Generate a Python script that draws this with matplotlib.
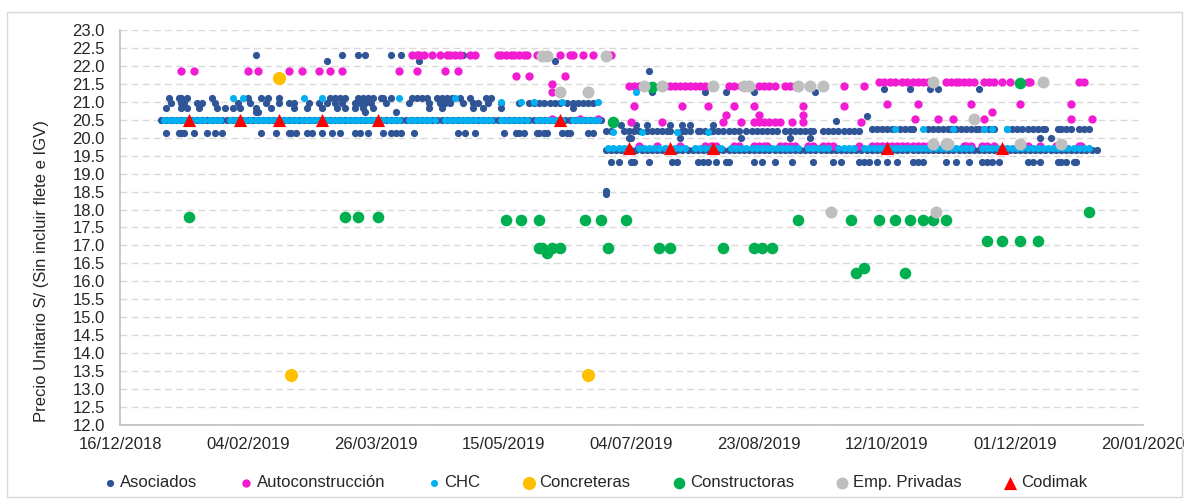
import numpy as np
import pandas as pd
import matplotlib
matplotlib.use('Agg')
import matplotlib.pyplot as plt
import matplotlib.dates as mdates
from matplotlib.patches import Rectangle

plt.rcParams['font.family'] = ['Liberation Sans', 'DejaVu Sans']

# days counted from 16/12/2018
START = pd.Timestamp('2018-12-16')

# ---- Asociados ----
aso_band_2050 = [16, 18, 20, 22, 24, 26, 28, 30, 32, 34, 36, 38, 40, 42, 44, 46, 48, 50, 52, 54, 56, 58, 60,
                 62, 64, 66, 68, 70, 72, 74, 76, 78, 80, 82, 84, 86, 88, 90, 92, 94, 96, 98, 100, 102, 104,
                 106, 108, 110, 112, 114, 116, 118, 120, 122, 124, 126, 128, 130, 132, 134, 136, 138, 140,
                 142, 144, 146, 148, 150, 152, 154, 156, 158, 160, 162, 164, 166, 168, 170, 172, 174, 176,
                 178, 180, 182, 184, 186, 188]
aso_2110 = [19, 23, 24, 26, 36, 50, 55, 58, 62, 82, 84, 86, 88, 93, 95, 97, 99, 102, 103, 106, 114, 116,
            118, 120, 124, 126, 128, 130, 133, 137, 143, 145]
aso_2098 = [20, 24, 25, 30, 32, 37, 46, 51, 57, 62, 66, 68, 74, 78, 81, 84, 87, 92, 94, 96, 98, 104, 113,
            121, 125, 127, 129, 134, 138, 140, 144, 149, 156, 160, 162, 164, 166, 168, 170, 172, 175, 177,
            179, 181, 183, 185]
aso_2084 = [18, 24, 26, 31, 38, 41, 44, 47, 53, 59, 68, 73, 79, 85, 88, 92, 95, 99, 121, 126, 138, 142,
            149, 177]
aso_2072 = [53, 54, 96, 108]
aso_2013 = [18, 23, 24, 25, 29, 34, 37, 40, 55, 61, 66, 67, 69, 73, 75, 79, 83, 86, 92, 94, 97, 103, 106,
            108, 110, 115, 132, 135, 139, 150, 155, 156, 158, 163, 164, 166, 167, 173, 175, 176, 183, 185]
aso_2230 = [53, 87, 93, 96, 106, 110, 134]
aso_2215 = [81, 117, 170]
aso_band_1968 = [190, 192, 194, 196, 198, 200, 202, 204, 206, 208, 210, 212, 214, 216, 218, 220, 222, 224,
                 226, 228, 230, 232, 234, 236, 238, 240, 242, 244, 246, 248, 250, 252, 254, 256, 258, 260,
                 262, 264, 266, 268, 270, 272, 274, 276, 278, 280, 282, 284, 286, 288, 290, 292, 294, 296,
                 298, 300, 302, 304, 306, 308, 310, 312, 314, 316, 318, 320, 322, 324, 326, 328, 330, 332,
                 334, 336, 338, 340, 342, 344, 346, 348, 350, 352, 354, 356, 358, 360, 362, 364, 366, 368,
                 370, 372, 374, 376, 378, 380, 382]
aso_2018 = [190, 192, 197, 199, 201, 203, 206, 208, 210, 212, 214, 215, 220, 221, 223, 226, 227, 229, 231,
            232, 234, 236, 238, 240, 242, 245, 247, 249, 251, 253, 255, 257, 260, 262, 264, 266, 268, 270,
            271, 275, 277, 279, 281, 283, 285, 287, 289]
aso_2024 = [294, 296, 298, 300, 302, 305, 307, 309, 310, 316, 318, 320, 322, 324, 325, 327, 329, 331, 333,
            335, 336, 338, 340, 342, 347, 349, 351, 353, 355, 357, 359, 361, 362, 367, 368, 370, 372, 375,
            377, 379]
aso_2035 = [196, 202, 206, 215, 220, 223, 232]
aso_2000 = [199, 200, 219, 243, 262, 270, 360, 364]
aso_1933 = [192, 195, 200, 201, 207, 216, 218, 226, 228, 230, 233, 237, 238, 248, 251, 256, 263, 271, 279,
            282, 289, 291, 293, 296, 300, 304, 310, 312, 314, 323, 327, 332, 337, 339, 341, 344, 355, 357,
            360, 367, 368, 370, 373, 374]
aso_2128 = [208, 229, 237, 248, 272]
aso_2135 = [299, 309, 317, 320, 336]
aso_other_days = [207, 280, 292, 190, 190]
aso_other_vals = [21.87, 20.47, 20.60, 18.52, 18.42]

# ---- Autoconstruccion ----
auto_2185 = [24, 29, 50, 54, 66, 71, 78, 82, 87, 109, 116, 127, 132]
auto_2172 = [155, 160, 174]
auto_2230 = [114, 116, 117, 119, 122, 125, 128, 129, 131, 133, 137, 139, 148, 149, 151, 153, 154, 156, 158,
             159, 163, 172, 176, 177, 181, 185, 192]
auto_2145 = [199, 201, 203, 204, 206, 213, 215, 217, 219, 221, 223, 225, 227, 229, 231, 238, 240, 243, 250,
             252, 254, 256, 260, 262, 264, 283, 291]
auto_2155 = [297, 299, 301, 303, 306, 308, 310, 312, 314, 316, 323, 325, 327, 328, 330, 332, 334, 338, 340,
             342, 345, 348, 355, 356, 375, 377]
auto_2088 = [201, 220, 230, 240, 248, 267, 283]
auto_2094 = [300, 312, 333, 352, 372]
auto_2063 = [237, 250, 267]
auto_2052 = [169, 180, 187, 311, 320, 326, 338, 372, 380]
auto_2044 = [200, 212, 236, 243, 248, 250, 252, 254, 256, 258, 263, 267, 290]
auto_1978 = [203, 210, 219, 229, 231, 233, 240, 242, 248, 250, 252, 253, 258, 260, 262, 264, 269, 271, 275,
             277, 279, 289, 294, 296, 298, 300, 302, 304, 306, 308, 310, 312, 314, 316, 330, 331, 333, 337,
             339, 342, 355, 360, 366, 375, 376]
auto_other_days = [169, 169, 341]
auto_other_vals = [21.49, 21.27, 20.72]

# ---- CHC ----
chc_band_2050 = [17, 19, 21, 23, 25, 27, 29, 31, 33, 35, 37, 39, 43, 45, 47, 49, 51, 53, 55, 57, 59, 61,
                 63, 65, 67, 69, 71, 73, 75, 77, 79, 81, 83, 85, 87, 89, 91, 93, 95, 97, 99, 101, 103, 105,
                 107, 109, 113, 115, 117, 119, 121, 123, 127, 129, 131, 133, 135, 137, 139, 141, 143, 145,
                 149, 151, 153, 155, 157, 159, 163, 165, 167, 169, 171, 173, 177, 179, 181, 183, 185, 187]
chc_2110 = [44, 48, 72, 79, 109, 131]
chc_2100 = [149, 157, 162, 173, 187]
chc_band_1972 = [191, 193, 195, 197, 199, 203, 205, 207, 209, 211, 213, 215, 217, 219, 221, 225, 227, 229,
                 231, 233, 235, 239, 241, 243, 245, 247, 249, 251, 253, 255, 257, 259, 261, 263, 265, 269,
                 271, 273, 275, 277, 281, 283, 285, 287, 291, 293, 295, 297, 299, 301, 303, 305, 307, 309,
                 311, 313, 315, 317, 319, 321, 323, 325, 327, 329, 331, 333, 337, 339, 341, 343, 345, 347,
                 349, 351, 353, 355, 357, 359, 361, 363, 365, 367, 369, 371, 373, 375, 377, 379]
chc_2016 = [193, 204, 218, 230]
chc_2024 = [303, 314, 326, 338, 341, 347]
chc_2128 = [202]

# ---- Concreteras ----
conc_days = [62, 67, 183]
conc_vals = [21.66, 13.40, 13.40]

# ---- Constructoras ----
cons_days = [27, 88, 93, 101, 151, 157, 164, 182, 188, 198, 265, 286, 297, 303, 309, 314, 318, 323,
             164, 165, 169, 172, 191, 211, 215, 236, 248, 251, 255, 167, 291, 288, 307,
             339, 345, 352, 359, 379, 208, 352, 193]
cons_vals = [17.80, 17.80, 17.80, 17.80, 17.70, 17.70, 17.70, 17.70, 17.70, 17.70, 17.70, 17.70, 17.70,
             17.70, 17.70, 17.70, 17.70, 17.70,
             16.93, 16.93, 16.93, 16.93, 16.93, 16.93, 16.93, 16.93, 16.93, 16.93, 16.93, 16.79, 16.37,
             16.22, 16.22, 17.12, 17.12, 17.12, 17.12, 17.93, 21.41, 21.53, 20.44]

# ---- Emp. Privadas ----
emp_days = [165, 167, 190, 172, 183, 205, 212, 232, 244, 246, 265, 270, 275, 318, 361, 334,
            318, 323, 324, 352, 368, 278, 319]
emp_vals = [22.28, 22.28, 22.28, 21.28, 21.28, 21.45, 21.45, 21.45, 21.45, 21.45, 21.45, 21.45, 21.45,
            21.55, 21.55, 20.52, 19.82, 19.82, 19.82, 19.82, 19.82, 17.93, 17.93]

# ---- Codimak ----
cod_days = [27, 47, 62, 79, 101, 172, 199, 215, 232, 300, 345]
cod_vals = [20.5, 20.5, 20.5, 20.5, 20.5, 20.5, 19.7, 19.7, 19.7, 19.7, 19.7]

x_ticks = ['16/12/2018', '04/02/2019', '26/03/2019', '15/05/2019', '04/07/2019',
           '23/08/2019', '12/10/2019', '01/12/2019', '20/01/2020']


def join(rows, extra_days=(), extra_vals=()):
    days, vals = [], []
    for price, d in rows:
        days += list(d)
        vals += [price] * len(d)
    days += list(extra_days)
    vals += list(extra_vals)
    return START + pd.to_timedelta(days, unit='D'), np.array(vals)


series = [
    ('Asociados', join([(20.50, aso_band_2050), (21.10, aso_2110), (20.98, aso_2098), (20.84, aso_2084),
                        (20.72, aso_2072), (20.13, aso_2013), (22.30, aso_2230), (22.15, aso_2215),
                        (19.66, aso_band_1968), (20.18, aso_2018), (20.24, aso_2024), (20.35, aso_2035),
                        (20.00, aso_2000), (19.33, aso_1933), (21.28, aso_2128), (21.35, aso_2135)],
                       aso_other_days, aso_other_vals), '#2F5597', 'o', 27),
    ('Autoconstrucción', join([(21.85, auto_2185), (21.72, auto_2172), (22.30, auto_2230), (21.45, auto_2145),
                               (21.55, auto_2155), (20.88, auto_2088), (20.94, auto_2094), (20.63, auto_2063),
                               (20.52, auto_2052), (20.44, auto_2044), (19.78, auto_1978)],
                              auto_other_days, auto_other_vals), '#F21CD2', 'o', 36),
    ('CHC', join([(20.50, chc_band_2050), (21.10, chc_2110), (21.00, chc_2100), (19.72, chc_band_1972),
                  (20.16, chc_2016), (20.24, chc_2024), (21.28, chc_2128)]), '#00B0F0', 'o', 26),
    ('Concreteras', join([], conc_days, conc_vals), '#FFC000', 'o', 90),
    ('Constructoras', join([], cons_days, cons_vals), '#00B050', 'o', 70),
    ('Emp. Privadas', join([], emp_days, emp_vals), '#BFBFBF', 'o', 75),
    ('Codimak', join([], cod_days, cod_vals), '#FF0000', '^', 90),
]

fig = plt.figure(figsize=(11.89, 5.01), dpi=100)
ax = fig.add_axes([0.101, 0.152, 0.860, 0.788])

for i, (name, (x, y), color, marker, size) in enumerate(series):
    ax.scatter(x, y, s=size, c=color, marker=marker, linewidths=0, label=name, zorder=3 + i)

tick_dates = pd.to_datetime(x_ticks, format='%d/%m/%Y')
ax.set_xlim(tick_dates[0], tick_dates[-1])
ax.set_xticks(tick_dates)
ax.xaxis.set_major_formatter(mdates.DateFormatter('%d/%m/%Y'))
ax.set_ylim(12, 23)
ax.set_yticks(np.arange(12, 23.01, 0.5))
ax.yaxis.set_major_formatter(matplotlib.ticker.FormatStrFormatter('%.1f'))

ax.yaxis.grid(True, linestyle=(0, (5, 3)), color='#D9D9D9', lw=1)
ax.set_axisbelow(True)
for s in ['top', 'right']:
    ax.spines[s].set_visible(False)
for s in ['left', 'bottom']:
    ax.spines[s].set_color('#BFBFBF')
    ax.spines[s].set_linewidth(1.2)
ax.tick_params(axis='both', length=0, labelsize=12, colors='#262626')
ax.tick_params(axis='y', pad=11)
ax.tick_params(axis='x', pad=9)

ax.set_ylabel('Precio Unitario S/ (Sin incluir flete e IGV)', fontsize=12, color='#262626')
ax.yaxis.set_label_coords(-0.070, 0.39)

fig.legend(loc='center', bbox_to_anchor=(0.5, 0.036), ncol=7, frameon=False, fontsize=12,
           handlelength=0.9, handletextpad=0.2, columnspacing=2.45, scatterpoints=1,
           labelcolor='#262626')

fig.patches.append(Rectangle((0.006, 0.008), 0.988, 0.969, transform=fig.transFigure,
                             fill=False, ec='#D9D9D9', lw=1))

fig.savefig('out.png', dpi=100)
